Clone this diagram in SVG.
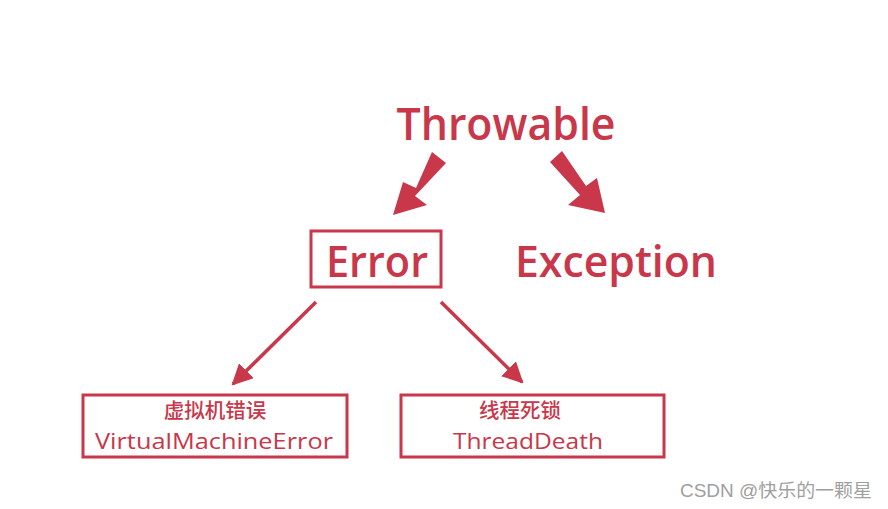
<svg xmlns="http://www.w3.org/2000/svg" width="888" height="509" viewBox="0 0 888 509">
<style>
.t{font-family:"Open Sans","Noto Sans","Noto Sans CJK SC",sans-serif;fill:#c8374a;font-weight:600}
.s{font-family:"Open Sans","Noto Sans","Noto Sans CJK SC",sans-serif;fill:#c8374a;font-weight:500}
.c{font-family:"Noto Sans CJK SC",sans-serif;fill:#c8374a;font-weight:500}
.box{fill:none;stroke:#c8374a;stroke-width:3}
.thin{stroke:#c8374a;stroke-width:3.5;fill:none}
.big{fill:#c8374a}
</style>
<defs>
<marker id="ah" viewBox="0 0 10 10" refX="9" refY="5" markerWidth="6" markerHeight="6" orient="auto" markerUnits="strokeWidth">
<path d="M0,0 L10,5 L0,10 z" fill="#c8374a"/>
</marker>
</defs>
<rect width="888" height="509" fill="#fff"/>
<g id="throwable"><text class="t" x="506" y="140" font-size="46" text-anchor="middle" textLength="219" lengthAdjust="spacingAndGlyphs">Throwable</text></g>
<g id="error"><rect class="box" x="311" y="231" width="130" height="56"/><text class="t" x="377" y="277" font-size="44" text-anchor="middle" textLength="102" lengthAdjust="spacingAndGlyphs">Error</text></g>
<g id="exception"><text class="t" x="616" y="277" font-size="44" text-anchor="middle" textLength="202" lengthAdjust="spacingAndGlyphs">Exception</text></g>
<g id="vme"><rect class="box" x="83" y="395" width="264" height="62"/><text class="c" x="215" y="417.5" font-size="20.5" text-anchor="middle">虚拟机错误</text><text class="s" x="214" y="448.5" font-size="22.5" text-anchor="middle" textLength="238" lengthAdjust="spacingAndGlyphs">VirtualMachineError</text></g>
<g id="td"><rect class="box" x="401" y="395" width="263" height="62"/><text class="c" x="520" y="417.5" font-size="20.5" text-anchor="middle">线程死锁</text><text class="s" x="528" y="448.5" font-size="22.5" text-anchor="middle" textLength="150" lengthAdjust="spacingAndGlyphs">ThreadDeath</text></g>
<g id="connectors">
<polygon class="big" points="432,152 446,163 415,196 427,205 393,215 403,182 416,188"/>
<polygon class="big" points="562,151 550,162 580,195 568,205 605,213 597,178 586,186"/>
<line class="thin" x1="316" y1="302" x2="233" y2="384" marker-end="url(#ah)"/>
<line class="thin" x1="441" y1="302" x2="522" y2="382" marker-end="url(#ah)"/>
</g>
<text x="872" y="497" font-size="18" text-anchor="end" fill="#a0a0a0" textLength="192" lengthAdjust="spacingAndGlyphs" style="font-family:'Liberation Sans','Noto Sans CJK SC',sans-serif">CSDN @快乐的一颗星</text>
</svg>
